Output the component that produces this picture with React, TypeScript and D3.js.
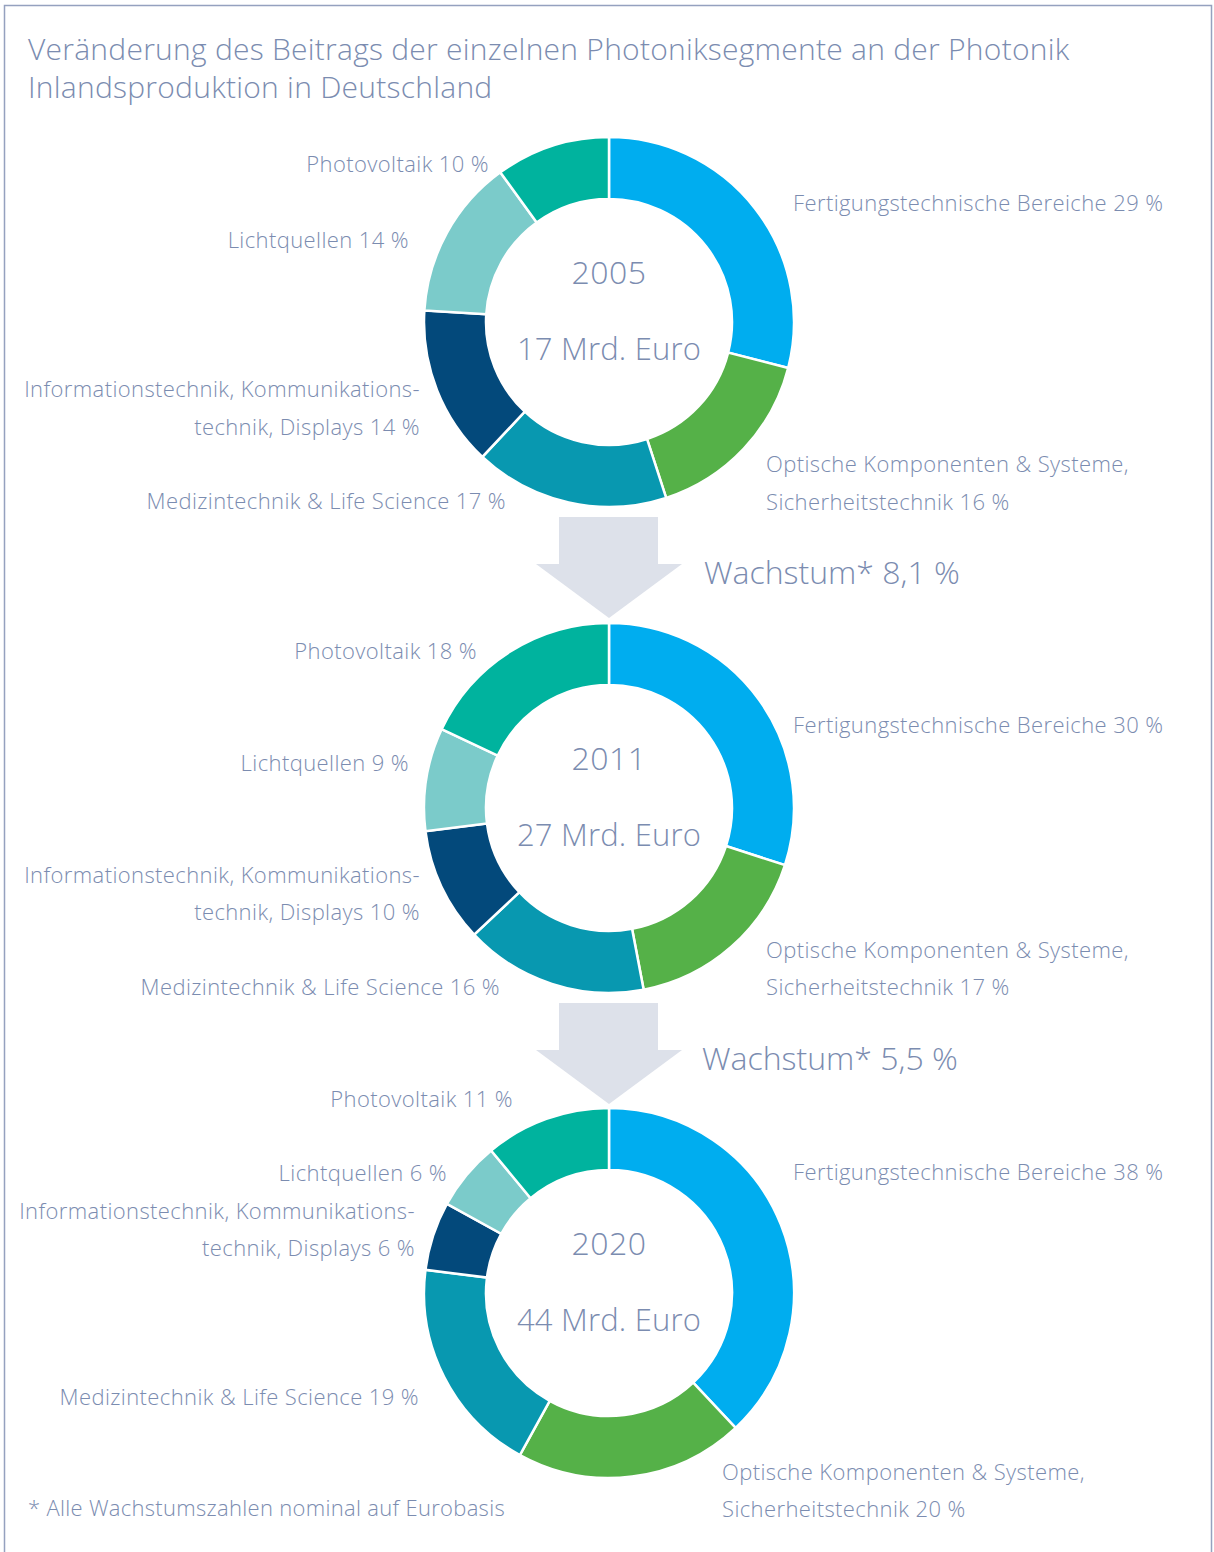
import React from "react";
import * as d3 from "d3";

const segments = [
  "Fertigungstechnische Bereiche",
  "Optische Komponenten & Systeme",
  "Medizintechnik & Life Science",
  "Informationstechnik",
  "Lichtquellen",
  "Photovoltaik",
];
const segmentColors = ["#00adef", "#55b148", "#0898b0", "#03497b", "#7bcbca", "#00b39e"];

const years = ["2005", "2011", "2020"];
const totals = ["17 Mrd. Euro", "27 Mrd. Euro", "44 Mrd. Euro"];
const values2005 = [29, 16, 17, 14, 14, 10];
const values2011 = [30, 17, 16, 10, 9, 18];
const values2020 = [38, 20, 19, 6, 6, 11];
const growth = ["Wachstum* 8,1 %", "Wachstum* 5,5 %"];

const title1 = "Veränderung des Beitrags der einzelnen Photoniksegmente an der Photonik";
const title2 = "Inlandsproduktion in Deutschland";
const footnote = "* Alle Wachstumszahlen nominal auf Eurobasis";

const allValues = [values2005, values2011, values2020];

type Lbl = { anchor: "start" | "end"; x: number; y: number[] };
const layouts: Lbl[][] = [
  [
    { anchor: "start", x: 793, y: [203] },
    { anchor: "start", x: 766, y: [464, 502] },
    { anchor: "end", x: 506, y: [501] },
    { anchor: "end", x: 420, y: [389, 427] },
    { anchor: "end", x: 409, y: [240] },
    { anchor: "end", x: 489, y: [164] },
  ],
  [
    { anchor: "start", x: 793, y: [725] },
    { anchor: "start", x: 766, y: [950, 987] },
    { anchor: "end", x: 500, y: [987] },
    { anchor: "end", x: 420, y: [875, 912] },
    { anchor: "end", x: 409, y: [763] },
    { anchor: "end", x: 477, y: [651] },
  ],
  [
    { anchor: "start", x: 793, y: [1172] },
    { anchor: "start", x: 722, y: [1472, 1509] },
    { anchor: "end", x: 419, y: [1397] },
    { anchor: "end", x: 415, y: [1211, 1248] },
    { anchor: "end", x: 447, y: [1173] },
    { anchor: "end", x: 513, y: [1099] },
  ],
];

function labelLines(i: number, v: number): string[] {
  if (i === 1) return ["Optische Komponenten & Systeme,", `Sicherheitstechnik ${v} %`];
  if (i === 3) return ["Informationstechnik, Kommunikations-", `technik, Displays ${v} %`];
  return [`${segments[i]} ${v} %`];
}

const textColor = "#7b8cb0";
const font = "'Open Sans', Roboto, sans-serif";

export default function App() {
  const W = 1214, H = 1552;
  const cx = 609;
  const centersY = [322, 808, 1293];
  const pie = d3.pie<number>().sort(null).value((d) => d);
  const arc = d3.arc<d3.PieArcDatum<number>>().innerRadius(123).outerRadius(185);

  const arrowTops = [517, 1003];
  return (
    <svg width={W} height={H} style={{ position: "absolute", left: 0, top: 0, background: "#fff" }} fontFamily={font}>
      <rect x={4.5} y={5.5} width={1207} height={1560} fill="#fff" stroke="#95a1bf" strokeWidth={1.5} />
      <text x={28} y={60} fontSize={30} letterSpacing={0.25} fill={textColor} fontWeight={300}>{title1}</text>
      <text x={28} y={98} fontSize={30} letterSpacing={0.25} fill={textColor} fontWeight={300}>{title2}</text>

      {arrowTops.map((t, i) => (
        <g key={"a" + i}>
          <path
            d={`M559,${t} H658 V${t + 47} H682 L609,${t + 101} L536,${t + 47} H559 Z`}
            fill="#dde1ea"
          />
          <text x={i === 0 ? 704 : 702} y={t + 67} fontSize={32} fill={textColor} fontWeight={300}>{growth[i]}</text>
        </g>
      ))}

      {allValues.map((vals, k) => {
        const arcs = pie(vals);
        const cy = centersY[k];
        return (
          <g key={k}>
            <g transform={`translate(${cx},${cy})`}>
              {arcs.map((a, i) => (
                <path key={i} d={arc(a) || ""} fill={segmentColors[i]} stroke="#fff" strokeWidth={2.5} />
              ))}
              <text x={0} y={-38} textAnchor="middle" fontSize={32} letterSpacing={0.5} fill={textColor} fontWeight={300}>{years[k]}</text>
              <text x={0} y={38} textAnchor="middle" fontSize={31} letterSpacing={0.2} fill={textColor} fontWeight={300}>{totals[k]}</text>
            </g>
            {vals.map((v, i) => {
              const L = layouts[k][i];
              return labelLines(i, v).map((line, j) => (
                <text key={i + "-" + j} x={L.x} y={L.y[j] + 7.5} textAnchor={L.anchor} fontSize={22} letterSpacing={0.4} fill={textColor} fontWeight={300}>
                  {line}
                </text>
              ));
            })}
          </g>
        );
      })}

      <text x={28} y={1516} fontSize={22} letterSpacing={0.3} fill={textColor} fontWeight={300}>{footnote}</text>
    </svg>
  );
}
